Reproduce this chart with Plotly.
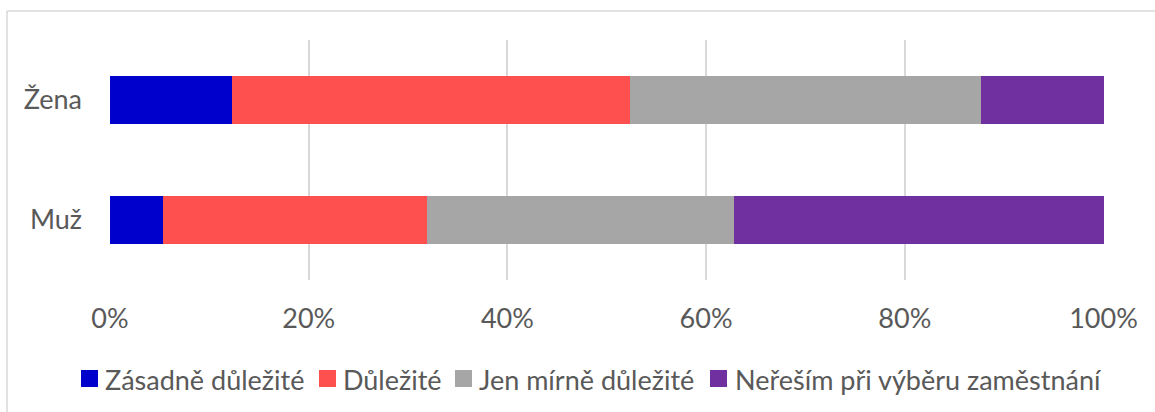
import plotly.graph_objects as go

categories = ["Žena", "Muž"]
series_names = ["Zásadně důležité", "Důležité", "Jen mírně důležité", "Neřeším při výběru zaměstnání"]
zasadne = [12.3, 5.3]
dulezite = [40.0, 26.6]
mirne = [35.4, 30.9]
neresim = [12.3, 37.2]
colors = ["#0000CC", "#FF5050", "#A6A6A6", "#7030A0"]
x_ticks = [0, 0.2, 0.4, 0.6, 0.8, 1.0]
x_ticklabels = ["0%", "20%", "40%", "60%", "80%", "100%"]

FONT = "Lato"
TXT = "#595959"
FS = 27

fig = go.Figure()
for name, vals, col in zip(series_names, [zasadne, dulezite, mirne, neresim], colors):
    fig.add_trace(go.Bar(
        y=categories, x=[v / 100 for v in vals], name=name, orientation="h",
        marker=dict(color=col, line=dict(width=0)), width=0.4, showlegend=False,
    ))

W, H = 1155, 412
L, R, T, B = 110, 1104, 40, 280

def px(x):
    return (x - L) / (R - L)

def py(y):
    return (B - y) / (B - T)

shapes = [
    dict(type="line", xref="paper", yref="paper", x0=px(7), x1=px(1170), y0=py(11), y1=py(11),
         line=dict(color="#D9D9D9", width=1.5)),
    dict(type="line", xref="paper", yref="paper", x0=px(7), x1=px(7), y0=py(11), y1=py(430),
         line=dict(color="#D9D9D9", width=1.5)),
]
annotations = []
legend_sq_x = [81, 319, 455, 710]
legend_tx_x = [103, 341, 477, 733]
for name, col, sx, tx in zip(series_names, colors, legend_sq_x, legend_tx_x):
    shapes.append(dict(type="rect", xref="paper", yref="paper", x0=px(sx), x1=px(sx + 17),
                       y0=py(387), y1=py(370), fillcolor=col, line=dict(width=0)))
    annotations.append(dict(xref="paper", yref="paper", x=px(tx), y=py(379), text=name,
                            showarrow=False, xanchor="left", yanchor="middle",
                            font=dict(family=FONT, size=FS, color=TXT)))

fig.update_layout(
    barmode="stack",
    width=W, height=H,
    margin=dict(l=L, r=W - R, t=T, b=H - B, pad=0),
    paper_bgcolor="white", plot_bgcolor="white",
    font=dict(family=FONT, size=FS, color=TXT),
    bargap=0.6,
    shapes=shapes,
    annotations=annotations,
    xaxis=dict(range=[0, 1.0005], tickvals=x_ticks, ticktext=x_ticklabels,
               showgrid=True, gridcolor="#D9D9D9", gridwidth=1.5, zeroline=False,
               showline=False, ticks="", ticklabelstandoff=20,
               tickfont=dict(family=FONT, size=FS, color=TXT)),
    yaxis=dict(autorange="reversed", showgrid=False, zeroline=False, showline=False,
               ticks="", ticklabelstandoff=27,
               tickfont=dict(family=FONT, size=FS, color=TXT)),
)

fig.write_html("out.html", config={"displayModeBar": False},
               post_script="document.body.style.margin='0';")
